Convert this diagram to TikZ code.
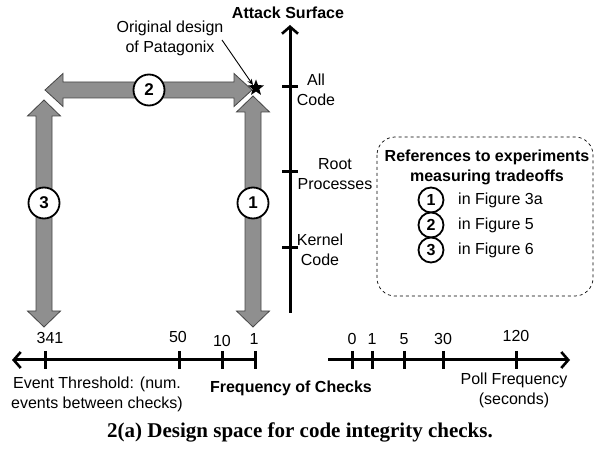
\documentclass[tikz,border=0pt]{standalone}
\usepackage{fontspec}
\setmainfont{Liberation Sans}
\newfontfamily\capfont{Liberation Serif}
\usetikzlibrary{arrows.meta,shapes.geometric}
\definecolor{blockgray}{RGB}{143,143,143}
\definecolor{blockedge}{RGB}{70,70,70}
\begin{document}
\begin{tikzpicture}[x=1pt,y=-1pt,
  lbl/.style={font=\fontsize{16}{20}\selectfont, inner sep=0, align=center},
  blbl/.style={font=\fontsize{16}{20}\selectfont\bfseries, inner sep=0, align=center},
  num/.style={circle, draw, line width=1.8pt, fill=white, minimum size=31pt, inner sep=0, font=\fontsize{17}{18}\selectfont\bfseries},
  snum/.style={num, minimum size=25pt, font=\fontsize{16}{18}\selectfont\bfseries},
  blk/.style={fill=blockgray, draw=blockedge, line width=0.8pt, line join=miter},
  axis/.style={line width=3pt},
  tick/.style={line width=3pt},
  tip/.style={-{Straight Barb[length=7pt,width=16pt,line width=2.6pt]}},
]
\useasboundingbox (0,0) rectangle (595,449);

% block arrow 2 (horizontal)
\draw[blk] (45,90) -- (63,73.5) -- (63,82) -- (234,82) -- (234,73.5) -- (252,90) -- (234,106.5) -- (234,98) -- (63,98) -- (63,106.5) -- cycle;
% block arrow 1 (vertical, right)
\draw[blk] (253,96) -- (269.5,112) -- (261,112) -- (261,311) -- (269.5,311) -- (253,327) -- (236.5,311) -- (245,311) -- (245,112) -- (236.5,112) -- cycle;
% block arrow 3 (vertical, left)
\draw[blk] (44,100) -- (60.5,116) -- (52,116) -- (52,311) -- (60.5,311) -- (44,327) -- (27.5,311) -- (36,311) -- (36,116) -- (27.5,116) -- cycle;

\node[num] (c2) at (149,90) {2};
\node[num] (c1) at (253,203) {1};
\node[num] (c3) at (44,203) {3};

% star and annotation
\node[star, star points=5, star point ratio=2.4, fill=black, inner sep=0, minimum size=17pt] (star) at (256,88) {};
\node[lbl] (orig) at (170,38) {Original design\\of Patagonix};
\coordinate (origend) at (222,40);
\draw[-{Stealth[length=6pt,width=5pt]}, line width=0.9pt] (origend) -- (star.north west);

% vertical axis
\coordinate (vb) at (290,313);
\coordinate (vt) at (290,25);
\draw[axis, tip] (vb) -- (vt);
\node[blbl] (attack) at (288,13) {Attack Surface};
\foreach \yy in {87,172,248} {\draw[tick] (282,\yy) -- (298,\yy);}
\node[lbl] (allcode) at (316,90) {All\\Code};
\node[lbl] (root) at (335,174) {Root\\Processes};
\node[lbl] (kernel) at (320,250) {Kernel\\Code};

% references box
\draw[dashed, line width=0.7pt, rounded corners=18pt] (377,137) rectangle (593,296);
\node[blbl] (refs) at (487,167) {References to experiments\\measuring tradeoffs};
\node[snum] (r1) at (431,200) {1};
\node[snum] (r2) at (431,225) {2};
\node[snum] (r3) at (431,250) {3};
\node[lbl, anchor=west] (f1) at (458,200) {in Figure 3a};
\node[lbl, anchor=west] (f2) at (458,225) {in Figure 5};
\node[lbl, anchor=west] (f3) at (458,250) {in Figure 6};

% bottom left axis
\coordinate (lr) at (255,360);
\coordinate (ll) at (12,360);
\draw[axis, tip] (lr) -- (ll);
\foreach \xx in {45,179,222,255} {\draw[tick] (\xx,351) -- (\xx,369);}
\node[lbl] (n341) at (50,338) {341};
\node[lbl] (n50) at (178,337) {50};
\node[lbl] (n10) at (222,341) {10};
\node[lbl] (n1) at (254,339) {1};
\node[lbl] (evt) at (97,394) {Event Threshold: (num.\\events between checks)};

% bottom right axis
\coordinate (rl) at (328,360);
\coordinate (rr) at (570,360);
\draw[axis, tip] (rl) -- (rr);
\foreach \xx in {352,372,404,443,516} {\draw[tick] (\xx,351) -- (\xx,369);}
\node[lbl] (p0) at (352,339) {0};
\node[lbl] (p1) at (372,339) {1};
\node[lbl] (p5) at (404,339) {5};
\node[lbl] (p30) at (443,339) {30};
\node[lbl] (p120) at (516,336) {120};
\node[lbl] (poll) at (514,390) {Poll Frequency\\(seconds)};

\node[blbl] (freq) at (291,388) {Frequency of Checks};
\node[inner sep=0, font=\capfont\fontsize{21}{24}\selectfont\bfseries] (cap) at (300,432) {2(a) Design space for code integrity checks.};
\end{tikzpicture}
\end{document}
